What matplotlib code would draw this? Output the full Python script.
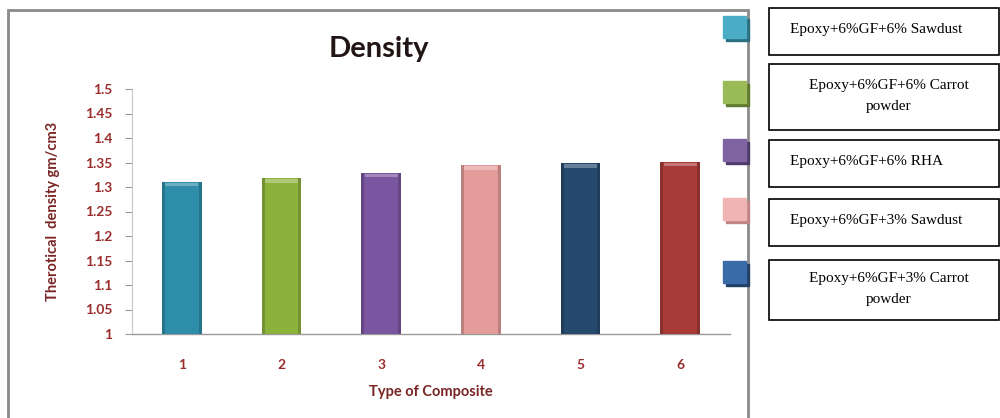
import matplotlib
matplotlib.use("Agg")
import matplotlib.pyplot as plt
from matplotlib.patches import Rectangle
import numpy as np

categories = ["1", "2", "3", "4", "5", "6"]
density = [1.311, 1.318, 1.329, 1.344, 1.348, 1.352]
bar_colors = ["#2E8DA8", "#8CB23C", "#7A55A0", "#E49C9A", "#264A6E", "#A83B38"]
yticks = [1, 1.05, 1.1, 1.15, 1.2, 1.25, 1.3, 1.35, 1.4, 1.45, 1.5]
ytick_labels = ["1", "1.05", "1.1", "1.15", "1.2", "1.25", "1.3", "1.35", "1.4", "1.45", "1.5"]
legend_labels = ["Epoxy+6%GF+6% Sawdust", "Epoxy+6%GF+6% Carrot\npowder",
                 "Epoxy+6%GF+6% RHA", "Epoxy+6%GF+3% Sawdust",
                 "Epoxy+6%GF+3% Carrot\npowder"]
legend_colors = ["#4BACC6", "#9BBB59", "#8064A2", "#F0B4B4", "#3A6BA8"]
legend_shadow = ["#2A6E80", "#5F7A2E", "#4E3A6B", "#C08585", "#223F66"]

W, H = 1000, 418
fig = plt.figure(figsize=(10, 4.18), dpi=100)

def fx(px):
    return px / W

def fy(py):
    return 1 - py / H

red = "#9A2E2E"

# outer chart frame
frame = Rectangle((fx(8), fy(420)), fx(748) - fx(8), fy(10) - fy(420),
                  transform=fig.transFigure, fill=False, edgecolor="#8a8a8a",
                  linewidth=2, zorder=0)
fig.patches.append(frame)

ax = fig.add_axes([fx(132), fy(334), fx(730) - fx(132), fy(89) - fy(334)])
x = np.arange(len(categories))
ax.bar(x, [d - 1 for d in density], bottom=1, width=0.40, color=bar_colors,
       linewidth=0, zorder=3)
# soft side shading / highlight cap
for xi, d, c in zip(x, density, bar_colors):
    rgb = np.array(matplotlib.colors.to_rgb(c))
    dark = tuple(rgb * 0.82)
    light = tuple(np.clip(rgb + (1 - rgb) * 0.3, 0, 1))
    ax.bar([xi - 0.185], [d - 1], bottom=1, width=0.03, color=dark, linewidth=0, zorder=4)
    ax.bar([xi + 0.185], [d - 1], bottom=1, width=0.03, color=dark, linewidth=0, zorder=4)
    ax.bar([xi], [0.007], bottom=d - 0.009, width=0.33, color=light, linewidth=0, zorder=5)

ax.set_xlim(-0.5, len(categories) - 0.5)
ax.set_ylim(1, 1.5)
ax.set_yticks(yticks)
ax.set_yticklabels(ytick_labels)
ax.set_xticks(x)
ax.set_xticklabels(categories)
for s in ["top", "right"]:
    ax.spines[s].set_visible(False)
ax.spines["left"].set_color("#c8c8c8")
ax.spines["bottom"].set_color("#9a9a9a")
ax.spines["bottom"].set_linewidth(1.0)
ax.tick_params(axis="y", length=5, color="#9a9a9a", labelsize=10, labelcolor=red, pad=9)
ax.tick_params(axis="x", length=0, labelsize=10, labelcolor=red, pad=18)
for lab in ax.get_yticklabels() + ax.get_xticklabels():
    lab.set_fontweight("bold")
    lab.set_family("Lato")

ax.set_ylabel("Therotical  density gm/cm3", fontsize=10.5, fontweight="bold",
              color="#7A2525", family="Lato", labelpad=18)
ax.set_xlabel("Type of Composite", fontsize=10.5, fontweight="bold",
              color="#7A2525", family="Lato", labelpad=10)
fig.text(fx(379), fy(49), "Density", fontsize=21, fontweight="bold",
         color="#221515", family="Lato", ha="center", va="center")

# legend squares
sq_top = [17, 82, 140, 199, 262]
for t, c, sc in zip(sq_top, legend_colors, legend_shadow):
    fig.patches.append(Rectangle((fx(726), fy(t + 24)), fx(23), fy(0) - fy(22),
                                 transform=fig.transFigure, color=sc, zorder=5))
    fig.patches.append(Rectangle((fx(723), fy(t + 21)), fx(23), fy(0) - fy(22),
                                 transform=fig.transFigure, color=c, zorder=6))

# legend text boxes
boxes = [(8, 55), (64, 130), (140, 187), (199, 246), (260, 320)]
for (t, b), lab in zip(boxes, legend_labels):
    fig.patches.append(Rectangle((fx(769), fy(b)), fx(999) - fx(769), fy(t) - fy(b),
                                 transform=fig.transFigure, fill=False,
                                 edgecolor="black", linewidth=1.2, zorder=5))
    if "\n" in lab:
        fig.text(fx(889), fy((t + b) / 2 - 1), lab, ha="center", va="center",
                 fontsize=11, family="Liberation Serif", linespacing=1.75)
    else:
        fig.text(fx(790), fy((t + b) / 2 - 2), lab, ha="left", va="center",
                 fontsize=11, family="Liberation Serif")

fig.savefig("out.png", dpi=100)
